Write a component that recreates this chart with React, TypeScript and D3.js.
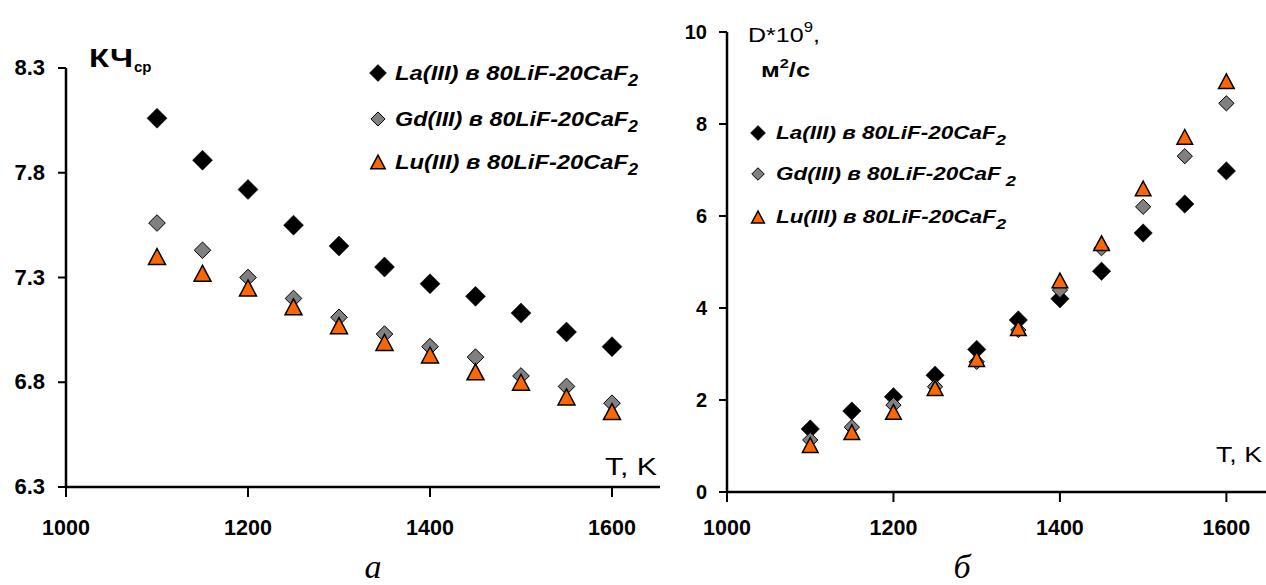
import React from "react";
import * as d3 from "d3";

const temps = [1100, 1150, 1200, 1250, 1300, 1350, 1400, 1450, 1500, 1550, 1600];
const kchLa = [8.06, 7.86, 7.72, 7.55, 7.45, 7.35, 7.27, 7.21, 7.13, 7.04, 6.97];
const kchGd = [7.56, 7.43, 7.30, 7.20, 7.11, 7.03, 6.97, 6.92, 6.83, 6.78, 6.70];
const kchLu = [7.40, 7.32, 7.25, 7.16, 7.07, 6.99, 6.93, 6.85, 6.80, 6.73, 6.66];
const dLa = [1.37, 1.76, 2.07, 2.54, 3.10, 3.74, 4.20, 4.80, 5.63, 6.26, 6.98];
const dGd = [1.13, 1.41, 1.89, 2.29, 2.83, 3.52, 4.39, 5.30, 6.20, 7.30, 8.45];
const dLu = [1.02, 1.30, 1.74, 2.26, 2.89, 3.56, 4.60, 5.41, 6.60, 7.72, 8.93];
const xTicks = [1000, 1200, 1400, 1600];
const kchTicks = [6.3, 6.8, 7.3, 7.8, 8.3];
const dTicks = [0, 2, 4, 6, 8, 10];
const seriesNames = ["La(III) в 80LiF-20CaF", "Gd(III) в 80LiF-20CaF", "Lu(III) в 80LiF-20CaF"];

const FONT = "'Liberation Sans', Arial, sans-serif";

function diamond(cx: number, cy: number, r: number) {
  return `M${cx},${cy - r}L${cx + r},${cy}L${cx},${cy + r}L${cx - r},${cy}Z`;
}
function triangle(cx: number, cy: number, w: number, h: number) {
  return `M${cx},${cy - h / 2}L${cx + w / 2},${cy + h / 2}L${cx - w / 2},${cy + h / 2}Z`;
}

function Marker({ kind, x, y, s }: { kind: number; x: number; y: number; s: number }) {
  if (kind === 0) return <path d={diamond(x, y, 10 * s)} fill="#000" stroke="#000" strokeWidth={0.5} />;
  if (kind === 1) return <path d={diamond(x, y, 8.3 * s)} fill="#808080" stroke="#000" strokeWidth={1} />;
  return <path d={triangle(x, y, 17 * s, 16 * s)} fill="#FF6600" stroke="#000" strokeWidth={1.5} strokeLinejoin="miter" />;
}

function Panel({
  x, y, xTickVals, yTickVals, yFmt, data, markerScale, axisEnd, tickFont, yLabelX,
}: any) {
  const [x0] = x.range();
  const [yb, yt] = y.range();
  return (
    <g>
      <line x1={x0} x2={x0} y1={yt} y2={yb} stroke="#000" strokeWidth={2.5} />
      <line x1={x0 - 1} x2={axisEnd} y1={yb} y2={yb} stroke="#000" strokeWidth={2.5} />
      {yTickVals.map((v: number) => (
        <g key={"y" + v}>
          <line x1={x0 - 8} x2={x0} y1={y(v)} y2={y(v)} stroke="#000" strokeWidth={2} />
          <text x={yLabelX} y={y(v) + 7} textAnchor="end" fontFamily={FONT} fontWeight="bold" fontSize={tickFont}>
            {yFmt(v)}
          </text>
        </g>
      ))}
      {xTickVals.map((v: number) => (
        <g key={"x" + v}>
          <line x1={x(v)} x2={x(v)} y1={yb} y2={yb + 10} stroke="#000" strokeWidth={2} />
          <text x={x(v)} y={535} textAnchor="middle" fontFamily={FONT} fontWeight="bold" fontSize={21.5}>
            {v}
          </text>
        </g>
      ))}
      {data.map((vals: number[], k: number) =>
        vals.map((v, i) => <Marker key={k + "-" + i} kind={k} x={x(temps[i])} y={y(v)} s={markerScale} />)
      )}
    </g>
  );
}

export default function App() {
  const xL = d3.scaleLinear().domain([1000, 1650]).range([66, 657.5]);
  const yL = d3.scaleLinear().domain([6.3, 8.3]).range([487, 68]);
  const xR = d3.scaleLinear().domain([1000, 1650]).range([727, 1268]);
  const yR = d3.scaleLinear().domain([0, 10]).range([492, 32]);

  const legL = [80, 126, 169];
  const legR = [139, 180, 223];
  const legRW = [230, 240, 230];

  return (
    <svg width={1266} height={585} style={{ position: "absolute", left: 0, top: 0, background: "#fff" }}>
      <rect width={1266} height={585} fill="#fff" />
      <Panel x={xL} y={yL} xTickVals={xTicks} yTickVals={kchTicks} yFmt={d3.format(".1f")}
        data={[kchLa, kchGd, kchLu]} markerScale={1} axisEnd={660} tickFont={22} yLabelX={45} />
      <Panel x={xR} y={yR} xTickVals={xTicks} yTickVals={dTicks} yFmt={d3.format("d")}
        data={[dLa, dGd, dLu]} markerScale={0.92} axisEnd={1266} tickFont={20} yLabelX={707} />

      {/* left titles */}
      <text x={89} y={67} fontFamily={FONT} fontSize={26} fontWeight="bold" textLength={44} lengthAdjust="spacingAndGlyphs">КЧ</text>
      <text x={134} y={72} fontFamily={FONT} fontSize={15} fontWeight="bold">ср</text>
      <text x={605} y={475} fontFamily={FONT} fontSize={23} textLength={52} lengthAdjust="spacingAndGlyphs">T, K</text>

      {/* right titles */}
      <text x={748} y={42} fontFamily={FONT} fontSize={21} textLength={72} lengthAdjust="spacingAndGlyphs">
        D*10<tspan fontSize={14} dy={-10}>9</tspan><tspan dy={10}>,</tspan>
      </text>
      <text x={761} y={77} fontFamily={FONT} fontSize={20} fontWeight="bold" textLength={49} lengthAdjust="spacingAndGlyphs">
        м<tspan fontSize={13} dy={-9}>2</tspan><tspan dy={9}>/с</tspan>
      </text>
      <text x={1216} y={462} fontFamily={FONT} fontSize={22} textLength={46} lengthAdjust="spacingAndGlyphs">T, K</text>

      {/* legends */}
      {seriesNames.map((n, k) => (
        <g key={"ll" + k}>
          <Marker kind={k} x={378} y={legL[k] - 7} s={0.85} />
          <text x={395} y={legL[k]} fontFamily={FONT} fontSize={21} fontWeight="bold" fontStyle="italic"
            textLength={243} lengthAdjust="spacingAndGlyphs">
            {n}<tspan fontSize={16} dy={6}>2</tspan>
          </text>
        </g>
      ))}
      {seriesNames.map((n, k) => (
        <g key={"lr" + k}>
          <Marker kind={k} x={758} y={legR[k] - 6} s={0.75} />
          <text x={776} y={legR[k]} fontFamily={FONT} fontSize={18.5} fontWeight="bold" fontStyle="italic"
            textLength={legRW[k]} lengthAdjust="spacingAndGlyphs">
            {n}<tspan fontSize={15} dy={6}>{k === 1 ? "\u00a02" : "2"}</tspan>
          </text>
        </g>
      ))}

      {/* captions */}
      <text x={373} y={578} textAnchor="middle" fontFamily="'Liberation Serif', 'Times New Roman', serif" fontStyle="italic" fontSize={34}>а</text>
      <text x={962} y={578} textAnchor="middle" fontFamily="'Liberation Serif', 'Times New Roman', serif" fontStyle="italic" fontSize={34}>б</text>
    </svg>
  );
}
